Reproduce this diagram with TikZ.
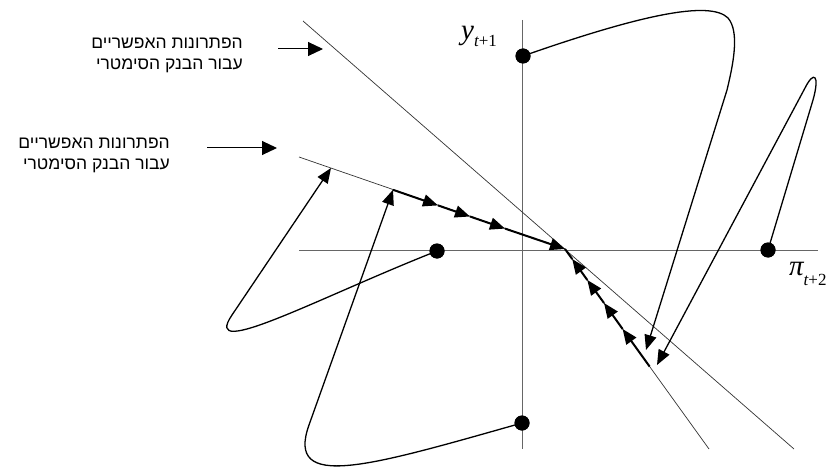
\documentclass[tikz,border=0pt]{standalone}
\usepackage{fontspec}
\setmainfont{Liberation Serif}
\newfontfamily\hebfont[Script=Hebrew]{Liberation Sans}
\TeXXeTstate=1
\usetikzlibrary{arrows.meta}
\begin{document}
\begin{tikzpicture}[x=1pt,y=-1pt,
  axis/.style={draw=black!60, line width=1pt},
  locus/.style={draw=black!80, line width=0.7pt},
  curve/.style={draw=black, line width=1.3pt},
  boldseg/.style={draw=black, line width=2pt},
  tipa/.style={-{Triangle[length=15pt,width=12pt]}},
  tipl/.style={-{Triangle[length=15pt,width=14pt]}},
  dot/.style={circle, fill=black, inner sep=0pt, minimum size=15pt},
  heb/.style={font=\hebfont\fontsize{17.5}{21}\selectfont, align=right, inner sep=0pt}]
\useasboundingbox (0,0) rectangle (835,468);
% axes
\coordinate (xL) at (299,250); \coordinate (xR) at (818,250);
\coordinate (yT) at (522,20);  \coordinate (yB) at (522,449);
\draw[axis] (xL) -- (xR);
\draw[axis] (yT) -- (yB);
% loci
\coordinate (Atop) at (303,21); \coordinate (Abot) at (794,449);
\coordinate (Btop) at (299,157); \coordinate (C) at (565,249); \coordinate (Bbot) at (709,449);
\draw[locus] (Atop) -- (Abot);
\draw[locus] (Btop) -- (C) -- (Bbot);
% dots
\node[dot] (dT) at (523,56) {};
\node[dot] (dL) at (437,251) {};
\node[dot] (dR) at (768,250) {};
\node[dot] (dB) at (522,423) {};
% curve points
\coordinate (u0) at (393,189.8);
\coordinate (u1) at (438,205.4);
\coordinate (u2) at (470,216.5);
\coordinate (u3) at (505,228.6);
\coordinate (Ltip) at (331,168);
\coordinate (l0) at (649.6,366.5);
\coordinate (l1) at (622.6,329);
\coordinate (l2) at (604,303);
\coordinate (l3) at (587.3,280);
\coordinate (l4) at (572.2,259);
\coordinate (Ttip) at (646,350);
\coordinate (Rtip) at (657,365);
% curves
\draw[curve,tipa] (dL.center) .. controls (320,297) and (200,362) .. (232,315) -- (Ltip);
\draw[curve,tipa] (dB.center) .. controls (370,466) and (285,492) .. (309,425) -- (u0);
\draw[curve,tipa] (dT.center) .. controls (640,15) and (710,0) .. (728,18)
   .. controls (740,32) and (733,65) .. (727,90) -- (Ttip);
\draw[curve,tipa] (dR.center) -- (813,100) .. controls (820,75) and (814,70) .. (805,88) -- (Rtip);
% bold segments along the saddle path
\draw[boldseg,tipa] (u0) -- (u1);
\draw[boldseg,tipa] (u1) -- (u2);
\draw[boldseg,tipa] (u2) -- (u3);
\draw[boldseg,tipa] (u3) -- (C);
\draw[boldseg,tipa] (l0) -- (l1);
\draw[boldseg,tipa] (l1) -- (l2);
\draw[boldseg,tipa] (l2) -- (l3);
\draw[boldseg,tipa] (l3) -- (l4);
\draw[boldseg] (l4) -- (C);
% redraw dots on top
\node[dot] at (dT) {};
\node[dot] at (dL) {};
\node[dot] at (dR) {};
\node[dot] at (dB) {};
% axis labels
\node[anchor=base west, inner sep=0pt] (ylab) at (461,40)
  {\fontsize{29}{29}\selectfont\itshape y\raisebox{-7pt}{\fontsize{17}{17}\selectfont\itshape t\upshape+1}};
\node[anchor=base west, inner sep=0pt] (pilab) at (789,275)
  {\fontsize{29}{29}\selectfont\itshape π\raisebox{-10pt}{\fontsize{17}{17}\selectfont\itshape t\upshape+2}};
% hebrew labels
\node[heb, anchor=north east] (lab1) at (243,38)
  {\beginR הפתרונות האפשריים\endR\\ \beginR עבור הבנק הסימטרי\endR};
\node[heb, anchor=north east] (lab2) at (170,138)
  {\beginR הפתרונות האפשריים\endR\\ \beginR עבור הבנק הסימטרי\endR};
\coordinate (a1s) at (278,49); \coordinate (a1e) at (323,49);
\coordinate (a2s) at (207,148); \coordinate (a2e) at (277,148);
\draw[line width=1pt, tipl] (a1s) -- (a1e);
\draw[line width=1pt, tipl] (a2s) -- (a2e);
\end{tikzpicture}
\end{document}
